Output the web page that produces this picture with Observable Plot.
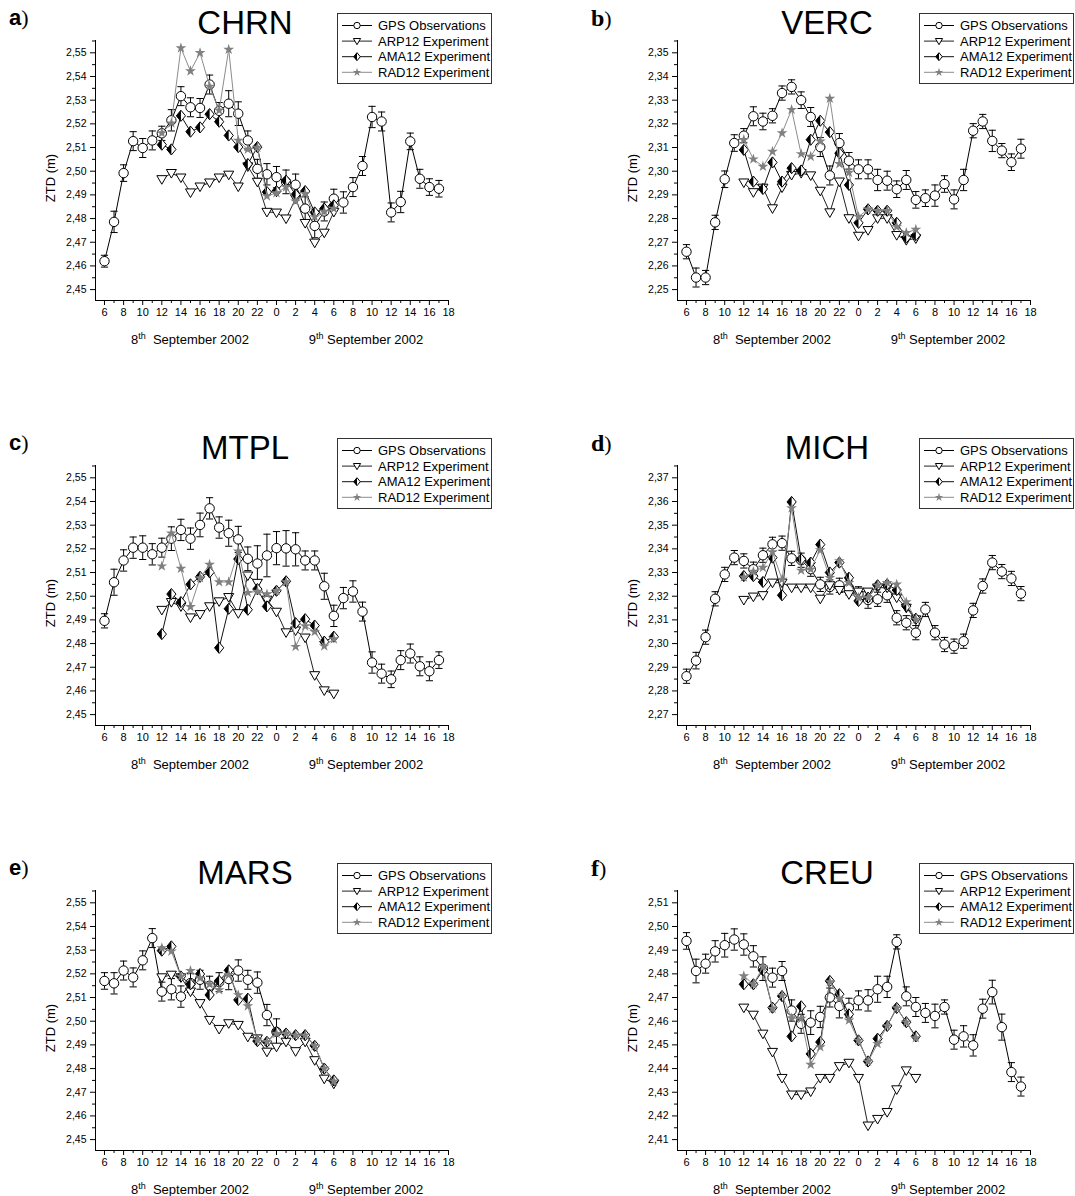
<!DOCTYPE html>
<html><head><meta charset="utf-8">
<script src="https://cdn.jsdelivr.net/npm/d3@7"></script>
<script src="https://cdn.jsdelivr.net/npm/@observablehq/plot@0.6"></script>
<style>
html,body{margin:0;padding:0;background:#fff;overflow:hidden;}
#wrap{position:relative;width:1075px;height:1196px;overflow:hidden;font-family:"Liberation Sans",Arial,sans-serif;color:#000;}
.panel{position:absolute;width:540px;height:400px;}
.letter{position:absolute;left:9px;top:5px;font-size:22px;line-height:26px;}
.letter.sans b{font-family:"Liberation Sans",Arial,sans-serif;font-weight:900;}
.letter.serif b{font-family:"Liberation Serif","DejaVu Serif",serif;font-weight:bold;font-size:24px;}
.letter span{font-family:"Liberation Serif",serif;font-weight:normal;}
.title{position:absolute;left:145px;width:200px;top:4px;text-align:center;font-size:33px;line-height:38px;}
.ylab{position:absolute;left:50px;top:178px;transform:translate(-50%,-50%) rotate(-90deg);font-size:13px;white-space:nowrap;}
.date{position:absolute;top:331px;font-size:13px;white-space:nowrap;transform:translateX(-50%);}
.date sup{font-size:9px;}
</style></head>
<body><div id="wrap"></div>
<script>
// ---------- data ----------
const hoursGPS = [6,7,8,9,10,11,12,13,14,15,16,17,18,19,20,21,22,23,24,25,26,27,28,29,30,31,32,33,34,35,36,37,38,39,40,41];
const hoursMARS = [6,7,8,9,10,11,12,13,14,15,16,17,18,19,20,21,22,23,24];
const hoursExp = [12,13,14,15,16,17,18,19,20,21,22,23,24,25,26,27,28,29,30];
const xTickHours = [6,8,10,12,14,16,18,20,22,24,26,28,30,32,34,36,38,40,42];
const xTickLabels = ["6","8","10","12","14","16","18","20","22","0","2","4","6","8","10","12","14","16","18"];
const stations = ["CHRN","VERC","MTPL","MICH","MARS","CREU"];
const letters = ["a","b","c","d","e","f"];
const yBase = [2.45,2.25,2.45,2.27,2.45,2.41];
const legendLabels = ["GPS Observations","ARP12 Experiment","AMA12 Experiment","RAD12 Experiment"];

const CHRN_gps = [2.4620,2.4786,2.4992,2.5127,2.5098,2.5130,2.5160,2.5215,2.5317,2.5270,2.5267,2.5366,2.5255,2.5285,2.5243,2.5130,2.5010,2.4987,2.4975,2.4955,2.4943,2.4842,2.4769,2.4830,2.4884,2.4868,2.4933,2.5022,2.5229,2.5210,2.4826,2.4870,2.5126,2.4968,2.4933,2.4926];
const CHRN_err = [0.0025,0.0045,0.0035,0.004,0.004,0.004,0.003,0.0045,0.004,0.004,0.004,0.004,0.0035,0.0055,0.005,0.004,0.004,0.0045,0.0045,0.005,0.0045,0.005,0.005,0.004,0.004,0.0045,0.004,0.004,0.0045,0.004,0.004,0.0045,0.0035,0.004,0.0035,0.0035];
const CHRN_arp = [2.4966,2.4992,2.4973,2.4910,2.4935,2.4952,2.4973,2.4985,2.4935,2.5020,2.4955,2.4828,2.4825,2.4800,2.4884,2.4781,2.4698,2.4740,2.4828];
const CHRN_ama = [2.5112,2.5092,2.5234,2.5167,2.5185,2.5241,2.5209,2.5151,2.5102,2.5030,2.5102,2.4912,2.4916,2.4960,2.4901,2.4916,2.4826,2.4842,2.4856];
const CHRN_rad = [2.5161,2.5203,2.5520,2.5423,2.5500,2.5358,2.5257,2.5514,2.5130,2.5092,2.5100,2.4895,2.4908,2.4933,2.4873,2.4905,2.4807,2.4830,2.4842];

const VERC_gps = [2.2660,2.2551,2.2551,2.2784,2.2966,2.3119,2.3150,2.3232,2.3210,2.3234,2.3330,2.3356,2.3300,2.3229,2.3102,2.2982,2.3119,2.3044,2.3008,2.3008,2.2963,2.2960,2.2924,2.2963,2.2879,2.2886,2.2897,2.2946,2.2881,2.2963,2.3171,2.3210,2.3128,2.3087,2.3038,2.3095];
const VERC_err = [0.003,0.004,0.003,0.003,0.0035,0.0035,0.003,0.004,0.0035,0.003,0.003,0.003,0.0035,0.004,0.004,0.004,0.004,0.0035,0.004,0.004,0.0045,0.004,0.0035,0.004,0.0035,0.0035,0.0045,0.0035,0.004,0.0045,0.003,0.003,0.0045,0.003,0.0035,0.004];
const VERC_arp = [2.2952,2.2911,2.2930,2.2843,2.2931,2.2984,2.2992,2.2982,2.2917,2.2826,2.2956,2.2801,2.2727,2.2751,2.2801,2.2801,2.2730,2.2709,2.2716];
const VERC_ama = [2.3090,2.2956,2.2925,2.3037,2.2956,2.3013,2.3003,2.3133,2.3213,2.3165,2.3076,2.2942,2.2782,2.2839,2.2833,2.2833,2.2782,2.2720,2.2730];
const VERC_rad = [2.3133,2.3051,2.3020,2.3083,2.3161,2.3260,2.3073,2.3062,2.3126,2.3307,2.3031,2.2994,2.2808,2.2839,2.2833,2.2833,2.2765,2.2740,2.2754];

const MTPL_gps = [2.4896,2.5059,2.5151,2.5205,2.5205,2.5177,2.5205,2.5243,2.5280,2.5243,2.5301,2.5371,2.5290,2.5266,2.5240,2.5158,2.5138,2.5172,2.5203,2.5202,2.5198,2.5151,2.5151,2.5042,2.4917,2.4992,2.5020,2.4935,2.4720,2.4673,2.4649,2.4730,2.4758,2.4704,2.4683,2.4730];
const MTPL_err = [0.003,0.0055,0.0045,0.0045,0.005,0.0045,0.004,0.005,0.0045,0.0045,0.005,0.0045,0.0045,0.0055,0.0055,0.005,0.0075,0.009,0.007,0.0075,0.007,0.004,0.004,0.0055,0.0045,0.0045,0.0045,0.004,0.0045,0.004,0.0035,0.004,0.004,0.004,0.004,0.0035];
const MTPL_arp = [2.4942,2.4975,2.4957,2.4910,2.4924,2.4957,2.4978,2.4996,2.4928,2.5087,2.5056,2.4985,2.4934,2.4847,2.4855,2.4825,2.4666,2.4602,2.4588];
const MTPL_ama = [2.4840,2.5009,2.4975,2.5050,2.5082,2.5101,2.4782,2.4947,2.5157,2.4943,2.5030,2.4957,2.5023,2.5063,2.4886,2.4903,2.4876,2.4808,2.4829];
const MTPL_rad = [2.5127,2.5266,2.5117,2.4955,2.5077,2.5134,2.5060,2.5060,2.5190,2.5015,2.5020,2.5009,2.5023,2.5060,2.4787,2.4874,2.4850,2.4789,2.4819];

const MICH_gps = [2.2862,2.2928,2.3027,2.3189,2.3292,2.3363,2.3349,2.3314,2.3373,2.3419,2.3424,2.3360,2.3352,2.3314,2.3250,2.3239,2.3246,2.3235,2.3210,2.3184,2.3187,2.3204,2.3109,2.3088,2.3046,2.3144,2.3046,2.2996,2.2989,2.3010,2.3140,2.3243,2.3342,2.3304,2.3275,2.3211];
const MICH_err = [0.003,0.0035,0.003,0.003,0.003,0.003,0.003,0.003,0.003,0.003,0.003,0.003,0.003,0.003,0.003,0.003,0.003,0.003,0.003,0.0035,0.003,0.003,0.003,0.003,0.003,0.003,0.003,0.003,0.003,0.003,0.003,0.003,0.003,0.003,0.003,0.003];
const MICH_arp = [2.3184,2.3198,2.3204,2.3257,2.3257,2.3236,2.3236,2.3236,2.3189,2.3246,2.3226,2.3208,2.3219,2.3219,2.3236,2.3236,2.3194,2.3151,2.3102];
const MICH_ama = [2.3285,2.3285,2.3260,2.3363,2.3204,2.3598,2.3356,2.3342,2.3418,2.3300,2.3342,2.3278,2.3180,2.3194,2.3246,2.3250,2.3226,2.3158,2.3105];
const MICH_rad = [2.3280,2.3304,2.3321,2.3387,2.3271,2.3572,2.3309,2.3314,2.3395,2.3278,2.3349,2.3257,2.3194,2.3194,2.3246,2.3257,2.3250,2.3175,2.3102];

const MARS_gps = [2.5170,2.5160,2.5214,2.5185,2.5257,2.5351,2.5125,2.5135,2.5104,2.5161,2.5175,2.5150,2.5165,2.5178,2.5214,2.5175,2.5163,2.5026,2.4955];
const MARS_err = [0.0035,0.0045,0.004,0.004,0.004,0.004,0.004,0.0045,0.0045,0.004,0.004,0.004,0.004,0.0045,0.0045,0.004,0.0045,0.0045,0.0055];
const MARS_arp = [2.5185,2.5196,2.5185,2.5125,2.5076,2.5005,2.4967,2.4991,2.4984,2.4934,2.4927,2.4871,2.4892,2.4913,2.4873,2.4913,2.4835,2.4757,2.4736];
const MARS_ama = [2.5298,2.5316,2.5189,2.5156,2.5199,2.5111,2.5170,2.5215,2.5090,2.5095,2.4916,2.4913,2.4955,2.4948,2.4941,2.4941,2.4896,2.4800,2.4750];
const MARS_rad = [2.5309,2.5295,2.5189,2.5213,2.5182,2.5156,2.5132,2.5196,2.5111,2.5064,2.4920,2.4913,2.4948,2.4948,2.4941,2.4941,2.4896,2.4800,2.4746];

const CREU_gps = [2.4939,2.4812,2.4843,2.4895,2.4921,2.4945,2.4924,2.4874,2.4822,2.4784,2.4812,2.4645,2.4589,2.4594,2.4618,2.4700,2.4664,2.4657,2.4688,2.4688,2.4735,2.4745,2.4935,2.4705,2.4660,2.4635,2.4622,2.4660,2.4522,2.4536,2.4498,2.4653,2.4723,2.4575,2.4385,2.4324];
const CREU_err = [0.0035,0.005,0.004,0.0045,0.005,0.0045,0.0045,0.0045,0.005,0.004,0.004,0.0045,0.004,0.005,0.0045,0.004,0.005,0.004,0.004,0.0045,0.0055,0.0045,0.003,0.004,0.004,0.004,0.005,0.003,0.004,0.0045,0.0045,0.004,0.005,0.0055,0.004,0.004];
const CREU_arp = [2.4657,2.4627,2.4547,2.4470,2.4360,2.4290,2.4290,2.4303,2.4360,2.4360,2.4410,2.4424,2.4360,2.4159,2.4187,2.4216,2.4312,2.4392,2.4360];
const CREU_ama = [2.4756,2.4756,2.4815,2.4657,2.4706,2.4536,2.4663,2.4462,2.4512,2.4770,2.4714,2.4629,2.4519,2.4430,2.4526,2.4580,2.4656,2.4596,2.4536];
const CREU_rad = [2.4791,2.4756,2.4829,2.4653,2.4709,2.4613,2.4611,2.4417,2.4491,2.4766,2.4695,2.4604,2.4519,2.4430,2.4505,2.4580,2.4656,2.4596,2.4529];

// ---------- drawing ----------
const C_GPS = "#000", C_ARP = "#222", C_AMA = "#111", C_RAD = "#8c8c8c", C_STAR = "#808080";
const triDown = {draw(c){c.moveTo(-5,-3.6);c.lineTo(5,-3.6);c.lineTo(0,5);c.closePath();}};
const diamond = {draw(c){c.moveTo(0,-5.6);c.lineTo(4.6,0);c.lineTo(0,5.6);c.lineTo(-4.6,0);c.closePath();}};
const diamondL = {draw(c){c.moveTo(0,-5.6);c.lineTo(-4.6,0);c.lineTo(0,5.6);c.closePath();}};
const cap = {draw(c){c.moveTo(-3.6,0);c.lineTo(3.6,0);}};

const panels = [
  {g:CHRN_gps,e:CHRN_err,gh:hoursGPS,arp:CHRN_arp,ama:CHRN_ama,rad:CHRN_rad},
  {g:VERC_gps,e:VERC_err,gh:hoursGPS,arp:VERC_arp,ama:VERC_ama,rad:VERC_rad},
  {g:MTPL_gps,e:MTPL_err,gh:hoursGPS,arp:MTPL_arp,ama:MTPL_ama,rad:MTPL_rad},
  {g:MICH_gps,e:MICH_err,gh:hoursGPS,arp:MICH_arp,ama:MICH_ama,rad:MICH_rad},
  {g:MARS_gps,e:MARS_err,gh:hoursMARS,arp:MARS_arp,ama:MARS_ama,rad:MARS_rad},
  {g:CREU_gps,e:CREU_err,gh:hoursGPS,arp:CREU_arp,ama:CREU_ama,rad:CREU_rad}
];
const pos = [[0,0],[582,0],[0,425],[582,425],[0,850],[582,850]];
const wrap = document.getElementById("wrap");
const fmtY = d => d.toFixed(2).replace(".", ",");

function legend() {
  const svg = d3.create("svg").attr("width",160).attr("height",74)
    .style("position","absolute").style("left","337px").style("top","13px").style("overflow","visible");
  svg.append("rect").attr("x",0.5).attr("y",0.5).attr("width",154).attr("height",70)
    .attr("fill","#fff").attr("stroke","#333").attr("stroke-width",1);
  const cols = [C_GPS, C_ARP, C_AMA, C_RAD];
  legendLabels.forEach((lab,k)=>{
    const y = 12.5 + k*15.6;
    svg.append("line").attr("x1",5).attr("x2",35).attr("y1",y).attr("y2",y).attr("stroke",cols[k]).attr("stroke-width",1);
    const g = svg.append("g").attr("transform",`translate(20,${y})`);
    if (k===0) g.append("circle").attr("r",3.2).attr("fill","#fff").attr("stroke","#000");
    if (k===1) g.append("path").attr("d","M-3.6,-2.6L3.6,-2.6L0,3.6Z").attr("fill","#fff").attr("stroke","#000");
    if (k===2) { g.append("path").attr("d","M0,-4L3.3,0L0,4L-3.3,0Z").attr("fill","#fff").attr("stroke","#000");
                 g.append("path").attr("d","M0,-4L-3.3,0L0,4Z").attr("fill","#000"); }
    if (k===3) g.append("path").attr("d", d3.symbol(d3.symbolStar, 22)()).attr("fill",C_STAR);
    svg.append("text").attr("x",41).attr("y",y+4.6).attr("font-size","13px")
      .attr("font-family","Liberation Sans, Arial, sans-serif").text(lab);
  });
  return svg.node();
}

panels.forEach((p,i)=>{
  const base = yBase[i];
  const div = document.createElement("div");
  div.className = "panel";
  div.style.left = pos[i][0]+"px"; div.style.top = pos[i][1]+"px";
  wrap.appendChild(div);

  const gps = p.gh.map((h,k)=>({h, v:p.g[k], e:p.e[k]}));
  const rows = arr => hoursExp.map((h,k)=>({h, v:arr[k]}));
  const arp = rows(p.arp), ama = rows(p.ama), rad = rows(p.rad);
  const yTicks = d3.range(11).map(k => +(base + k*0.01).toFixed(3));
  const yMinor = d3.range(11).map(k => +(base + 0.005 + k*0.01).toFixed(4));
  const xMinor = d3.range(7, 42, 2);
  const xDom = [5.06, 42], yDom = [base-0.0046, base+0.1052];

  const chart = Plot.plot({
    width: 460, height: 330,
    marginLeft: 95, marginRight: 12, marginTop: 40, marginBottom: 30,
    x: {domain: xDom},
    y: {domain: yDom},
    style: {background:"transparent", color:"#000", fontFamily:"Liberation Sans, Arial, sans-serif", fontSize:"10.5px", overflow:"visible"},
    marks: [
      Plot.axisY({ticks: yTicks, tickSize: 5, tickPadding: 4, tickFormat: fmtY, label: null}),
      Plot.axisY({ticks: yMinor, tickSize: 3, tickFormat: () => "", label: null}),
      Plot.axisX({ticks: xTickHours, tickSize: 5, tickPadding: 3, tickFormat: (d,k) => xTickLabels[k], label: null, fontSize: 11}),
      Plot.axisX({ticks: xMinor, tickSize: 3, tickFormat: () => "", label: null}),
      Plot.ruleX([xDom[0]], {stroke:"#000"}),
      Plot.ruleY([yDom[0]], {stroke:"#000"}),
      // GPS
      Plot.ruleX(gps, {x:"h", y1:d=>d.v-d.e, y2:d=>d.v+d.e, stroke:"#000", strokeWidth:1}),
      Plot.dot(gps, {x:"h", y:d=>d.v+d.e, symbol:cap, stroke:"#000", fill:"none", strokeWidth:1}),
      Plot.dot(gps, {x:"h", y:d=>d.v-d.e, symbol:cap, stroke:"#000", fill:"none", strokeWidth:1}),
      Plot.line(gps, {x:"h", y:"v", stroke:C_GPS, strokeWidth:1}),
      Plot.dot(gps, {x:"h", y:"v", r:4.7, fill:"#fff", stroke:"#000", strokeWidth:1}),
      // ARP12
      Plot.line(arp, {x:"h", y:"v", stroke:C_ARP, strokeWidth:1}),
      Plot.dot(arp, {x:"h", y:"v", symbol:triDown, fill:"#fff", stroke:"#000", strokeWidth:1}),
      // AMA12
      Plot.line(ama, {x:"h", y:"v", stroke:C_AMA, strokeWidth:1}),
      Plot.dot(ama, {x:"h", y:"v", symbol:diamond, fill:"#fff", stroke:"#000", strokeWidth:1}),
      Plot.dot(ama, {x:"h", y:"v", symbol:diamondL, fill:"#000", stroke:"none"}),
      // RAD12
      Plot.line(rad, {x:"h", y:"v", stroke:C_RAD, strokeWidth:1}),
      Plot.dot(rad, {x:"h", y:"v", symbol:"star", r:3.4, fill:C_STAR, stroke:"none"})
    ]
  });
  chart.style.position = "absolute"; chart.style.left = "0px"; chart.style.top = "0px";
  div.appendChild(chart);

  const serif = (i % 2 === 1);
  const L = document.createElement("div");
  L.className = "letter " + (serif ? "serif" : "sans");
  L.innerHTML = `<b>${letters[i]}</b><span>)</span>`;
  div.appendChild(L);

  const T = document.createElement("div"); T.className = "title"; T.textContent = stations[i]; div.appendChild(T);
  const Y = document.createElement("div"); Y.className = "ylab"; Y.textContent = "ZTD (m)"; div.appendChild(Y);
  const D1 = document.createElement("div"); D1.className = "date"; D1.style.left = "190px";
  D1.innerHTML = "8<sup>th</sup>&nbsp; September 2002"; div.appendChild(D1);
  const D2 = document.createElement("div"); D2.className = "date"; D2.style.left = "366px";
  D2.innerHTML = "9<sup>th</sup> September 2002"; div.appendChild(D2);
  div.appendChild(legend());
});
</script>
</body></html>
